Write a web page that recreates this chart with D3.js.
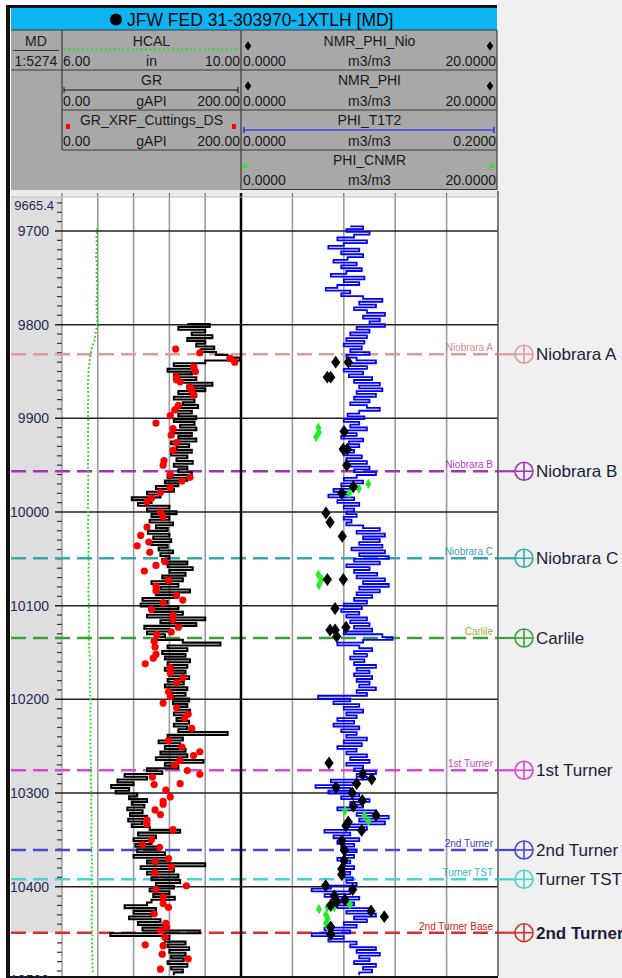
<!DOCTYPE html>
<html><head><meta charset="utf-8">
<script src="https://cdn.jsdelivr.net/npm/d3@7/dist/d3.min.js"></script>
<style>
body{margin:0;background:#fff;}
svg{display:block;font-family:Arial,"Liberation Sans",sans-serif;}
</style></head>
<body><svg id="c" width="622" height="978"></svg>
<script>
// ---------------- DATA ----------------
const wellName = "JFW FED 31-303970-1XTLH [MD]";
const scaleLabel = "1:5274";
const depthTopLabel = "9665.4";
const majorDepths = [9700, 9800, 9900, 10000, 10100, 10200, 10300, 10400, 10500];

// GR (gAPI) sampled from grStart every grStep ft
const grStart = 9799.4, grStep = 2.983;
const grValues = [
140,165,130,160,145,168,140,160,150,170,155,172,185,199,160,125,150,118,145,125,150,130,168,140,160,130,150,125,148,135,152,128,145,130,
150,125,148,132,150,125,145,130,150,122,142,128,145,122,140,128,146,125,140,130,145,118,140,115,130,105,125,95,110,78,100,85,120,
95,128,100,120,98,124,105,118,96,120,102,122,100,118,108,124,110,120,112,140,118,146,120,138,112,135,100,130,110,143,105,125,90,
118,88,130,100,135,95,160,110,150,92,120,95,115,105,135,177,118,140,112,138,115,143,118,140,115,138,120,142,118,136,115,140,122,138,
125,142,124,140,128,143,125,138,128,142,125,140,130,185,118,135,108,132,115,138,110,140,105,158,115,130,95,112,70,95,62,80,55,
75,60,84,75,95,78,92,73,90,76,95,74,90,78,98,132,85,105,80,100,82,108,84,115,80,120,95,160,88,125,95,130,100,
132,105,125,98,120,102,126,100,95,70,105,80,100,75,110,85,115,90,154,54,120,115,138,118,142,120,138,122,136,118,140,122,135,125];

// HCAL (in)
const hcalStart = 9697, hcalStep = 9.94;
const hcalValues = [6.79,6.77,6.78,6.76,6.78,6.77,6.79,6.78,6.77,6.78,6.79,6.76,6.73,6.66,6.62,6.60,6.59,6.58,6.59,6.58,
6.58,6.59,6.58,6.58,6.59,6.58,6.58,6.59,6.58,6.58,6.58,6.59,6.58,6.59,6.60,6.59,6.60,6.59,6.60,6.59,
6.60,6.60,6.61,6.60,6.60,6.61,6.62,6.63,6.63,6.62,6.63,6.64,6.63,6.64,6.64,6.63,6.64,6.64,6.65,6.64,
6.65,6.66,6.65,6.66,6.66,6.65,6.66,6.66,6.67,6.66,6.67,6.66,6.67,6.67,6.66,6.67,6.68,6.67,6.68,6.68,6.69];

// PHI_T1T2 (m3/m3)
const phiStart = 9695.0, phiStep = 2.983;
const phiT1T2Values = [
.085,.095,.082,.100,.088,.075,.098,.080,.068,.092,.078,.095,.083,.072,.090,.078,.094,.082,.070,.096,.080,.092,.075,.066,.085,.078,.095,.110,.092,.105,.088,.098,.112,.095,
.108,.100,.112,.090,.100,.085,.098,.082,.096,.080,.094,.085,.100,.082,.090,.105,.085,.098,.080,.095,.084,.102,.088,.108,.092,.110,.090,.105,.088,.100,.085,.098,.108,.092,.083,
.096,.080,.092,.085,.098,.082,.090,.078,.095,.084,.092,.078,.088,.080,.094,.082,.098,.085,.100,.088,.105,.090,.080,.095,.078,.090,.072,.085,.068,.088,.075,.092,.080,
.088,.082,.090,.080,.086,.082,.095,.108,.090,.112,.095,.108,.092,.110,.086,.112,.092,.115,.088,.108,.082,.100,.088,.106,.090,.112,.095,.115,.092,.108,.090,.102,.088,
.098,.080,.094,.078,.092,.082,.098,.085,.100,.088,.102,.080,.110,.118,.095,.075,.092,.102,.088,.098,.085,.096,.088,.105,.090,.100,.088,.102,.090,.100,.092,.105,.090,.098,
.060,.085,.072,.092,.080,.095,.082,.090,.075,.088,.072,.092,.078,.090,.082,.098,.080,.094,.075,.090,.082,.098,.085,.100,.082,.095,.088,.105,.090,.098,.070,.090,.058,
.085,.068,.092,.078,.100,.085,.095,.075,.105,.090,.115,.092,.112,.080,.098,.065,.085,.072,.092,.075,.088,.078,.090,.080,.088,.075,.085,.080,.088,.078,.085,.080,.087,
.082,.090,.070,.055,.085,.065,.092,.070,.088,.075,.100,.082,.105,.088,.098,.080,.090,.065,.085,.055,.080,.068,.090,.085,.105,.090,.108,.092,.100,.088,.105,.095,.102,.092];

// GR_XRF_Cuttings_DS (gAPI)
const xrfDepths = [9826,9830,9836,9840,9845,9850,9856,9861,9867,9859,9870,9875,9886,9891,9897,9905,9911,9918,9926,9934,9945,9950,9960,9963,9967,9974,9979,9985,9989,
10000,10005,10016,10025,10032,10036,10043,10053,10057,10063,10073,10079,10084,10089,10094,10097,10104,10110,10115,10123,10128,10131,10138,10144,10152,10156,10162,10166,10172,10177,10182,10192,10197,
10204,10209,10216,10220,10231,10244,10251,10256,10260,10265,10270,10276,10280,10283,10290,10291,10297,10304,10309,10312,10318,10323,10329,10333,10339,10350,10355,10358,10370,10373,10379,10385,10399,
10403,10411,10418,10422,10429,10439,10443,10447,10454,10462,10463,10472,10477,10488];
const xrfValues = [127,154,188,193,147,149,128,132,143,128,145,147,130,126,121,105,124,122,128,124,114,113,121,143,134,121,110,100,95,
110,113,95,88,97,84,98,115,105,92,119,105,105,128,135,113,100,124,124,130,122,106,103,104,105,102,93,121,121,135,128,119,121,
113,128,141,137,145,119,134,154,147,132,126,140,154,101,132,103,116,121,113,113,104,110,95,95,124,100,90,109,119,104,122,104,139,
105,113,113,119,103,116,117,110,115,93,113,112,141,110];

// NMR_PHI_Nio (m3/m3, 0-20)
const nmrNioDepths = [9840,9840,9856,9856,9914,9933,9933,9950,9973,9980,10001,10011,10026,10072,10072,10103,10123,10126,10126,10133];
const nmrNioValues = [7.37,8.35,6.72,6.98,8.02,7.96,8.27,8.23,8.74,7.84,6.61,6.93,7.88,6.72,7.96,7.32,8.17,6.93,7.32,7.45];
// NMR_PHI (m3/m3, 0-20)
const nmrDepths = [10268,10280,10285,10290,10294,10300,10308,10314,10324,10331,10335,10340,10351,10361,10372,10381,10387,10399,10403,10410,10414,10416,10420,10426,10432,10443,10451];
const nmrValues = [6.85,9.47,10.17,9.00,7.39,8.66,9.44,8.74,10.51,8.35,8.17,9.39,7.84,8.04,8.02,7.84,7.84,6.59,8.69,7.26,8.09,7.45,6.98,10.12,11.15,6.98,6.98];
// PHI_CNMR (m3/m3, 0-20)
const cnmrDepths = [9910,9915,9920,9970,9975,9980,10067,10072,10078,10319,10324,10330,10419,10424,10422,10430,10434,10439,10443,10422];
const cnmrValues = [6.02,6.07,5.84,9.91,9.18,8.43,6.02,6.28,6.07,8.09,9.60,9.91,8.48,6.07,6.72,6.61,6.75,6.61,6.75,7.26];

// Formation tops
const topNames = ["Niobrara A","Niobrara B","Niobrara C","Carlile","1st Turner","2nd Turner","Turner TST","2nd Turner Base"];
const topDepths = [9831.6,9956.5,10049.4,10134.5,10275.7,10360.8,10392.1,10449.1];

// ---------------- STYLE ----------------
const topLineColors = ["#dc9c9c","#a434b4","#38a8ac","#38a038","#d848d8","#4848d8","#48d4d4","#d43030"];
const topTextColors = ["#d88c8c","#b040b8","#3aa0b8","#9cb020","#c844d0","#4040c8","#30b8c8","#d02020"];
const W = {frameX:7, x0:11, mdX1:62, t1X1:241, t2X1:498, titleY0:8, titleY1:30, headY1:190, plotY0:197, plotY1:976};

const svg = d3.select("#c");
const y = d3.scaleLinear().domain([9700,10400]).range([231,886.7]);
const xGR = d3.scaleLinear().domain([0,200]).range([W.mdX1,W.t1X1]);
const xHCAL = d3.scaleLinear().domain([6,10]).range([W.mdX1,W.t1X1]);
const xPHI = d3.scaleLinear().domain([0,0.2]).range([W.t1X1,W.t2X1]);
const xNMR = d3.scaleLinear().domain([0,20]).range([W.t1X1,W.t2X1]);

// backgrounds
svg.append("rect").attr("x",0).attr("y",0).attr("width",622).attr("height",978).attr("fill","#fff");
svg.append("rect").attr("x",W.t2X1).attr("y",0).attr("width",622-W.t2X1).attr("height",978).attr("fill","#f0f0f0");
// header
svg.append("rect").attr("x",W.x0).attr("y",W.titleY1).attr("width",W.t2X1-1-W.x0).attr("height",W.headY1-W.titleY1).attr("fill","#a8a8a8");
svg.append("rect").attr("x",W.x0).attr("y",W.titleY0).attr("width",W.t2X1-1-W.x0).attr("height",W.titleY1-W.titleY0).attr("fill","#0db4f2");
svg.append("rect").attr("x",W.x0).attr("y",W.headY1).attr("width",W.t2X1-W.x0).attr("height",W.plotY0-W.headY1).attr("fill","#ececec");
// frame lines
svg.append("rect").attr("x",W.frameX-1).attr("y",5).attr("width",W.t2X1-W.frameX).attr("height",3).attr("fill","#111");
svg.append("rect").attr("x",W.frameX-1).attr("y",5).attr("width",4).attr("height",W.plotY1-3).attr("fill","#111");

// title
const title = svg.append("g");
title.append("circle").attr("cx",116).attr("cy",19.5).attr("r",6).attr("fill","#000");
title.append("text").attr("x",127).attr("y",26).attr("font-size",17.5).attr("fill","#000").text(wellName);

// header grid
const hl = svg.append("g").attr("stroke","#3a3a3a").attr("stroke-width",1.2);
[[W.x0,W.t2X1-1,30],[W.x0,W.t2X1-1,70],[W.mdX1,W.t2X1-1,110],[W.mdX1,W.t2X1-1,150],[W.t1X1,W.t2X1-1,189.5]].forEach(l=>{
  hl.append("line").attr("x1",l[0]).attr("x2",l[1]).attr("y1",l[2]).attr("y2",l[2]);
});
[[W.mdX1,30,150],[W.t1X1,30,190],[W.t2X1-1,30,190]].forEach(l=>{
  hl.append("line").attr("x1",l[0]).attr("x2",l[0]).attr("y1",l[1]).attr("y2",l[2]);
});
const ht = svg.append("g").attr("font-size",14).attr("fill","#1a1a1a");
function txt(x,yy,s,anchor){ht.append("text").attr("x",x).attr("y",yy).attr("text-anchor",anchor||"middle").text(s);}
txt(36,46,"MD"); txt(36,66,scaleLabel);
svg.append("line").attr("x1",13).attr("x2",59).attr("y1",50.5).attr("y2",50.5).attr("stroke","#333");
const c1 = (W.mdX1+W.t1X1)/2, c2 = (W.t1X1+W.t2X1)/2;
// track 1 header
txt(c1,46,"HCAL"); txt(W.mdX1+1,66,"6.00","start"); txt(c1,66,"in"); txt(W.t1X1-1,66,"10.00","end");
svg.append("line").attr("x1",64).attr("x2",238).attr("y1",49.5).attr("y2",49.5).attr("stroke","#22e022").attr("stroke-width",2.2).attr("stroke-dasharray","2,2.5");
txt(c1,85,"GR"); txt(W.mdX1+1,106,"0.00","start"); txt(c1,106,"gAPI"); txt(W.t1X1-1,106,"200.00","end");
svg.append("path").attr("d","M64,87V93M64,90H238M238,87V93").attr("stroke","#111").attr("stroke-width",1).attr("fill","none");
txt(c1,125,"GR_XRF_Cuttings_DS"); txt(W.mdX1+1,146,"0.00","start"); txt(c1,146,"gAPI"); txt(W.t1X1-1,146,"200.00","end");
svg.append("rect").attr("x",66).attr("y",124).attr("width",4).attr("height",5).attr("fill","#f00");
svg.append("rect").attr("x",232).attr("y",124).attr("width",4).attr("height",5).attr("fill","#f00");
// track 2 header
const dia = (s)=>d3.symbol().type(d3.symbolDiamond).size(s)();
[[c2,46,"NMR_PHI_Nio",66,"20.0000",46],[c2,85,"NMR_PHI",106,"20.0000",86]].forEach(r=>{
  txt(r[0],r[1],r[2]); txt(W.t1X1+2,r[3],"0.0000","start"); txt(c2,r[3],"m3/m3"); txt(W.t2X1-2,r[3],r[4],"end");
  svg.append("path").attr("d",dia(26)).attr("transform",`translate(248,${r[5]}) scale(1.2,1)`).attr("fill","#000");
  svg.append("path").attr("d",dia(26)).attr("transform",`translate(490,${r[5]}) scale(1.2,1)`).attr("fill","#000");
});
txt(c2,125,"PHI_T1T2"); txt(W.t1X1+2,146,"0.0000","start"); txt(c2,146,"m3/m3"); txt(W.t2X1-2,146,"0.2000","end");
svg.append("path").attr("d","M244,127V133M244,130H494M494,127V133").attr("stroke","#1010ff").attr("stroke-width",1.2).attr("fill","none");
txt(c2,165,"PHI_CNMR"); txt(W.t1X1+2,185,"0.0000","start"); txt(c2,185,"m3/m3"); txt(W.t2X1-2,185,"20.0000","end");
svg.append("circle").attr("cx",245).attr("cy",166).attr("r",2.2).attr("fill","#22ee22");
svg.append("circle").attr("cx",492).attr("cy",166).attr("r",2.2).attr("fill","#22ee22");
// header strip dividers
const sd = svg.append("g").attr("stroke","#555").attr("stroke-width",1);
[W.mdX1, ...[40,80,120,160].map(xGR), ...[0.04,0.08,0.12,0.16].map(xPHI)].forEach(x=>{
  sd.append("line").attr("x1",x).attr("x2",x).attr("y1",193).attr("y2",W.plotY0);
});
svg.append("line").attr("x1",W.t1X1).attr("x2",W.t1X1).attr("y1",193).attr("y2",W.plotY0).attr("stroke","#000").attr("stroke-width",2.5);

// ---------------- PLOT ----------------
svg.append("defs").append("clipPath").attr("id","pc").append("rect")
  .attr("x",W.x0).attr("y",W.plotY0).attr("width",W.t2X1-W.x0).attr("height",W.plotY1-W.plotY0);
const plot = svg.append("g").attr("clip-path","url(#pc)");
plot.append("rect").attr("x",W.x0).attr("y",W.plotY0).attr("width",W.t2X1-W.x0).attr("height",W.plotY1-W.plotY0).attr("fill","#fff");
// depth track shading down to 2nd Turner Base
plot.append("rect").attr("x",W.x0).attr("y",W.plotY0).attr("width",W.mdX1-W.x0).attr("height",y(topDepths[7])-W.plotY0).attr("fill","#dedede");

// vertical gridlines
const vg = plot.append("g").attr("stroke","#9c9c9c").attr("stroke-width",1.6);
[40,80,120,160].forEach(v=>vg.append("line").attr("x1",xGR(v)).attr("x2",xGR(v)).attr("y1",W.plotY0).attr("y2",W.plotY1));
[0.04,0.08,0.12,0.16].forEach(v=>vg.append("line").attr("x1",xPHI(v)).attr("x2",xPHI(v)).attr("y1",W.plotY0).attr("y2",W.plotY1));
plot.append("line").attr("x1",W.mdX1).attr("x2",W.mdX1).attr("y1",W.plotY0).attr("y2",W.plotY1).attr("stroke","#777").attr("stroke-width",1);

// depth ticks
const minor = d3.range(9670, 10500, 10).filter(d=>d%100!==0);
const tk = plot.append("g").attr("stroke","#333").attr("stroke-width",1.2);
minor.forEach(d=>tk.append("line").attr("x1",57).attr("x2",W.mdX1).attr("y1",y(d)).attr("y2",y(d)));
const mj = plot.append("g").attr("stroke","#222").attr("stroke-width",1.5);
majorDepths.forEach(d=>mj.append("line").attr("x1",55).attr("x2",W.t2X1).attr("y1",y(d)).attr("y2",y(d)));

// formation dashed lines
topDepths.forEach((d,i)=>{
  plot.append("line").attr("x1",W.x0).attr("x2",W.t2X1).attr("y1",y(d)).attr("y2",y(d))
    .attr("stroke",topLineColors[i]).attr("stroke-width",2.5).attr("stroke-dasharray","15,7");
});
topDepths.forEach((d,i)=>{
  plot.append("text").attr("x",W.t2X1-5).attr("y",y(d)-3).attr("text-anchor","end").attr("font-size",10)
    .attr("fill",topTextColors[i]).text(topNames[i]);
});

// HCAL
plot.append("path").datum(hcalValues).attr("fill","none").attr("stroke","#22dd22").attr("stroke-width",2)
  .attr("stroke-dasharray","1.8,2.2")
  .attr("d",d3.line().x(v=>xHCAL(v)).y((v,i)=>y(hcalStart+i*hcalStep)));
// GR (horizontal step display)
plot.append("path").datum(grValues).attr("fill","none").attr("stroke","#000").attr("stroke-width",2.1)
  .attr("d",d3.line().x(v=>xGR(v)).y((v,i)=>y(grStart+i*grStep)).curve(d3.curveStepAfter));
// XRF dots
plot.append("g").selectAll("circle").data(xrfDepths).join("circle")
  .attr("cx",(d,i)=>xGR(xrfValues[i])).attr("cy",d=>y(d)).attr("r",3.6).attr("fill","#ff0000");
// PHI_T1T2
plot.append("path").datum(phiT1T2Values).attr("fill","none").attr("stroke","#0000ff").attr("stroke-width",1.8)
  .attr("d",d3.line().x(v=>xPHI(v)).y((v,i)=>y(phiStart+i*phiStep)).curve(d3.curveStepAfter));
// PHI_CNMR green diamonds
plot.append("g").selectAll("path").data(cnmrDepths).join("path")
  .attr("d",dia(30)).attr("transform",(d,i)=>`translate(${xNMR(cnmrValues[i])},${y(d)})`).attr("fill","#22ee22");
// NMR black diamonds
const bigDia = dia(48);
plot.append("g").selectAll("path").data(nmrNioDepths).join("path")
  .attr("d",bigDia).attr("transform",(d,i)=>`translate(${xNMR(nmrNioValues[i])},${y(d)}) scale(1.25,1)`).attr("fill","#000");
plot.append("g").selectAll("path").data(nmrDepths).join("path")
  .attr("d",bigDia).attr("transform",(d,i)=>`translate(${xNMR(nmrValues[i])},${y(d)}) scale(1.25,1)`).attr("fill","#000");

// track separator & borders
svg.append("line").attr("x1",W.t1X1).attr("x2",W.t1X1).attr("y1",W.plotY0).attr("y2",W.plotY1).attr("stroke","#000").attr("stroke-width",2.5);
svg.append("line").attr("x1",W.t2X1).attr("x2",W.t2X1).attr("y1",W.plotY0-6).attr("y2",W.plotY1).attr("stroke","#555").attr("stroke-width",1.5);
svg.append("line").attr("x1",W.x0).attr("x2",W.t2X1).attr("y1",W.plotY0).attr("y2",W.plotY0).attr("stroke","#bbb").attr("stroke-width",1);
svg.append("rect").attr("x",W.frameX-1).attr("y",W.plotY1).attr("width",W.t2X1-W.frameX+1).attr("height",2).attr("fill","#111");

// depth labels
const dl = svg.append("g").attr("font-size",14).attr("fill","#1e2a55").attr("text-anchor","end");
majorDepths.forEach(d=>dl.append("text").attr("x",49).attr("y",y(d)+5).text(d));
svg.append("text").attr("x",54).attr("y",210).attr("text-anchor","end").attr("font-size",13).attr("fill","#1e2a55").text(depthTopLabel);

// right panel markers
topDepths.forEach((d,i)=>{
  const yy = y(d), cx = 524;
  const g = svg.append("g").attr("stroke",topLineColors[i]).attr("stroke-width",1.6).attr("fill","none");
  g.append("line").attr("x1",W.t2X1).attr("x2",cx-9).attr("y1",yy).attr("y2",yy).attr("stroke-width",2.2);
  g.append("circle").attr("cx",cx).attr("cy",yy).attr("r",9);
  g.append("line").attr("x1",cx-9).attr("x2",cx+9).attr("y1",yy).attr("y2",yy);
  g.append("line").attr("x1",cx).attr("x2",cx).attr("y1",yy-9).attr("y2",yy+9);
  svg.append("text").attr("x",536).attr("y",yy+6).attr("font-size",17).attr("fill","#1c1c3a")
    .attr("font-weight", i===7 ? "bold" : "normal").text(topNames[i]);
});
</script>
</body></html>
